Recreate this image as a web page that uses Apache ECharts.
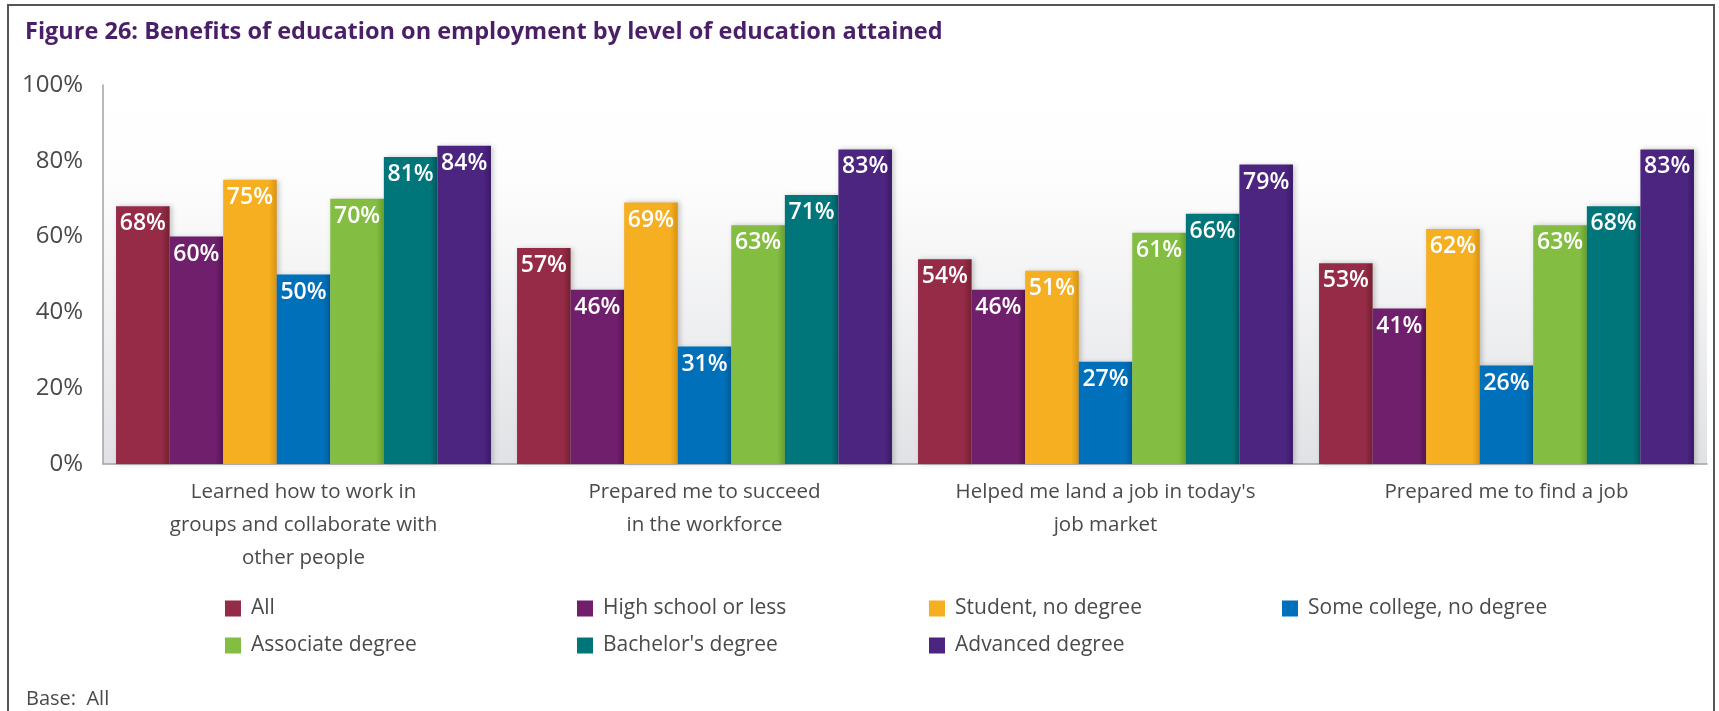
<!DOCTYPE html>
<html>
<head>
<meta charset="utf-8">
<title>Benefits of education on employment</title>
<script src="https://cdn.jsdelivr.net/npm/echarts@6/dist/echarts.min.js"></script>
<style>
  html, body { margin: 0; padding: 0; background: #ffffff; }
  #chart { width: 1719px; height: 711px; }
</style>
</head>
<body>
<div id="chart"></div>
<script>
// Survey statements (x-axis categories)
const categories = [
  "Learned how to work in\ngroups and collaborate with\nother people",
  "Prepared me to succeed\nin the workforce",
  "Helped me land a job in today's\njob market",
  "Prepared me to find a job"
];

// Share agreeing (%), one array per level of education
const seriesNames = [
  "All",
  "High school or less",
  "Student, no degree",
  "Some college, no degree",
  "Associate degree",
  "Bachelor's degree",
  "Advanced degree"
];
const allValues         = [68, 57, 54, 53];
const highSchoolValues  = [60, 46, 46, 41];
const studentValues     = [75, 69, 51, 62];
const someCollegeValues = [50, 31, 27, 26];
const associateValues   = [70, 63, 61, 63];
const bachelorValues    = [81, 71, 66, 68];
const advancedValues    = [84, 83, 79, 83];

const yTicks = [0, 20, 40, 60, 80, 100];

const seriesValues = [
  allValues, highSchoolValues, studentValues, someCollegeValues,
  associateValues, bachelorValues, advancedValues
];
const colors = ['#952b47', '#6f1f6b', '#f5af21', '#0070ba', '#83bd41', '#00767a', '#4c2581'];
const shades = ['#74202f', '#561452', '#d89212', '#005d9b', '#66a02e', '#005a5e', '#3a1966'];

const chart = echarts.init(document.getElementById('chart'), null, { renderer: 'canvas' });

const textGray = '#4a4a4a';
const baseFont = '"Open Sans", Lato, sans-serif';

const series = seriesNames.map((name, i) => ({
  name: name,
  type: 'bar',
  data: seriesValues[i],
  barGap: '0%',
  barCategoryGap: '6.5%',
  itemStyle: {
    color: {
      type: 'linear', x: 0, y: 0, x2: 1, y2: 0,
      colorStops: [
        { offset: 0, color: colors[i] },
        { offset: 0.86, color: colors[i] },
        { offset: 1, color: shades[i] }
      ]
    },
    shadowBlur: 5,
    shadowOffsetX: 2,
    shadowOffsetY: 0,
    shadowColor: 'rgba(0,0,0,0.22)'
  },
  label: {
    show: true,
    position: 'insideTop',
    distance: 6,
    color: '#ffffff',
    fontFamily: baseFont,
    fontWeight: 600,
    fontSize: 23,
    formatter: '{c}%'
  },
  emphasis: { disabled: true }
}));

// Legend laid out as columns of up to two rows
const legendColumns = [
  { left: 220, data: ["All", "Associate degree"] },
  { left: 572, data: ["High school or less", "Bachelor's degree"] },
  { left: 924, data: ["Student, no degree", "Advanced degree"] },
  { left: 1277, data: ["Some college, no degree"] }
];
const legends = legendColumns.map(col => ({
  orient: 'vertical',
  left: col.left,
  top: 590,
  itemGap: 10,
  itemWidth: 16,
  itemHeight: 16,
  icon: 'rect',
  selectedMode: false,
  data: col.data.map(n => ({ name: n, itemStyle: { color: colors[seriesNames.indexOf(n)] } })),
  textStyle: {
    color: textGray,
    fontFamily: baseFont,
    fontSize: 21,
    lineHeight: 27,
    padding: [0, 0, 0, 5]
  }
}));

const option = {
  backgroundColor: '#ffffff',
  animation: false,
  title: {
    text: 'Figure 26: Benefits of education on employment by level of education attained',
    left: 20,
    top: 15,
    textStyle: {
      color: '#4a1f68',
      fontFamily: baseFont,
      fontWeight: 'bold',
      fontSize: 23.5
    }
  },
  legend: legends,
  grid: {
    left: 103,
    right: 12,
    top: 85,
    bottom: 247,
    show: true,
    borderWidth: 0,
    backgroundColor: {
      type: 'linear', x: 0, y: 0, x2: 0, y2: 1,
      colorStops: [
        { offset: 0, color: '#ffffff' },
        { offset: 0.25, color: '#fdfdfd' },
        { offset: 1, color: '#e1e2e5' }
      ]
    }
  },
  xAxis: {
    type: 'category',
    data: categories,
    axisLine: { show: true, lineStyle: { color: '#a3a3a3', width: 1.5 } },
    axisTick: { show: false },
    axisLabel: {
      interval: 0,
      margin: 12,
      color: textGray,
      fontFamily: baseFont,
      fontSize: 20.5,
      lineHeight: 33
    }
  },
  yAxis: {
    type: 'value',
    min: yTicks[0],
    max: yTicks[yTicks.length - 1],
    interval: yTicks[1] - yTicks[0],
    axisLine: { show: true, lineStyle: { color: '#a3a3a3', width: 1.5 } },
    axisTick: { show: false },
    splitLine: { show: false },
    axisLabel: {
      margin: 20,
      color: textGray,
      fontFamily: baseFont,
      fontSize: 24,
      formatter: '{value}%'
    }
  },
  graphic: [
    {
      type: 'rect',
      silent: true,
      shape: { x: 8, y: 5, width: 1706, height: 740 },
      style: { fill: 'none', stroke: '#555555', lineWidth: 2 }
    },
    {
      type: 'text',
      silent: true,
      x: 26,
      y: 699,
      style: {
        text: 'Base:  All',
        fill: textGray,
        font: '20px ' + baseFont,
        verticalAlign: 'middle'
      }
    }
  ],
  series: series
};

chart.setOption(option);
</script>
</body>
</html>
